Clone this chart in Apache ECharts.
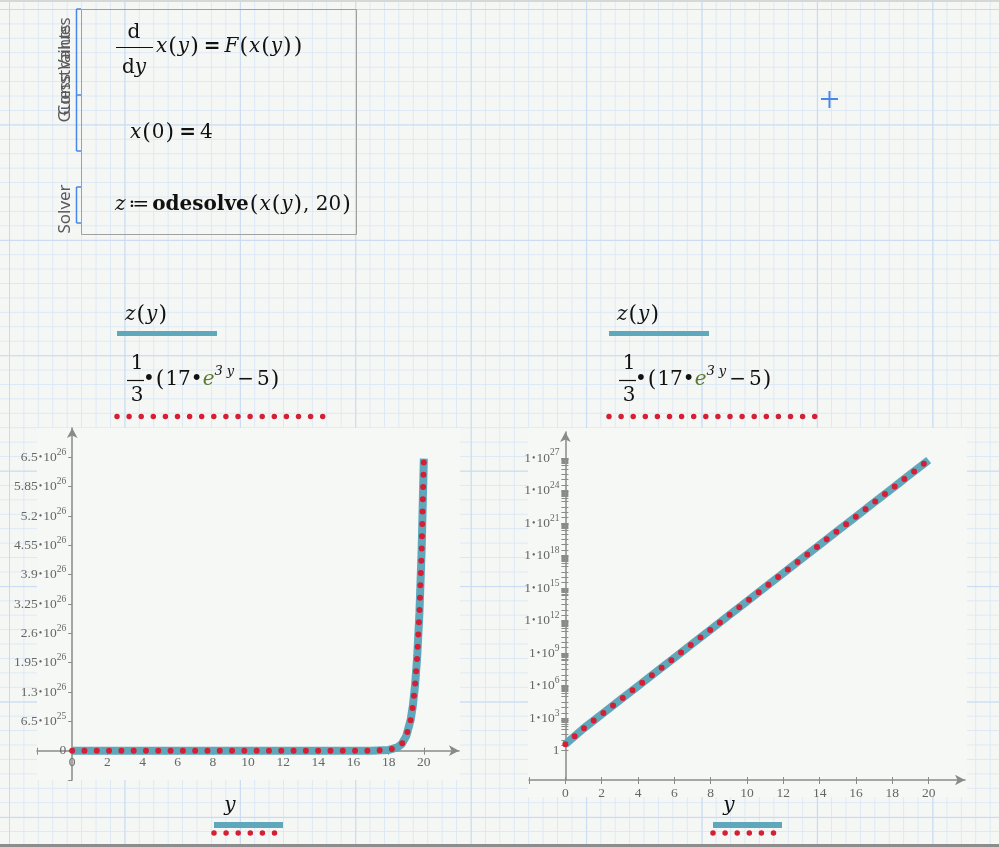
<!DOCTYPE html>
<html>
<head>
<meta charset="utf-8">
<script src="https://cdn.jsdelivr.net/npm/echarts@6/dist/echarts.min.js"></script>
<style>
html,body{margin:0;padding:0;}
body{width:999px;height:847px;overflow:hidden;background-color:#f5f7f4;
background-image:
 linear-gradient(to right, #c8daf2 1px, transparent 1px),
 linear-gradient(to bottom, #c8daf2 1px, transparent 1px),
 linear-gradient(to right, #dde8f6 1px, transparent 1px),
 linear-gradient(to bottom, #dde8f6 1px, transparent 1px);
background-size:115.44px 115.44px,115.44px 115.44px,14.43px 14.43px,14.43px 14.43px;
background-position:9px 9px,9px 9px,9px 9px,9px 9px;}
#chart{width:999px;height:847px;}
</style>
</head>
<body>
<div id="chart"></div>
<script>
// ---- data ----
const yValues = [0,1,2,3,4,5,6,7,8,9,10,11,12,13,14,15,16,17,18,18.5,18.75,19,19.25,19.375,19.5,19.625,19.75,19.875,20];
const zValues = [4,112.1,2286,45917,922280,1.852e7,3.721e8,7.473e9,1.501e11,3.015e12,6.056e13,1.216e15,2.443e16,4.907e17,9.856e18,1.980e20,3.976e21,7.986e22,1.604e24,7.189e24,1.522e25,3.222e25,6.821e25,9.924e25,1.444e26,2.101e26,3.057e26,4.448e26,6.471e26];

// ---- ticks / labels ----
const xTickValues = [-2,0,2,4,6,8,10,12,14,16,18,20];
const xLabelValues = [0,2,4,6,8,10,12,14,16,18,20];
const leftYTickValues = [-6.5e25,0,6.5e25,1.3e26,1.95e26,2.6e26,3.25e26,3.9e26,4.55e26,5.2e26,5.85e26,6.5e26];
const leftYLabelValues = [0,6.5e25,1.3e26,1.95e26,2.6e26,3.25e26,3.9e26,4.55e26,5.2e26,5.85e26,6.5e26];
const leftYLabelMantissa = ['0','6.5','1.3','1.95','2.6','3.25','3.9','4.55','5.2','5.85','6.5'];
const leftYLabelExponent = [null,25,26,26,26,26,26,26,26,26,26];
const rightYLabelExponents = [0,3,6,9,12,15,18,21,24,27];

const serif = '"Liberation Serif", "DejaVu Serif", serif';
const mathFont = '"DejaVu Serif", serif';
const axisColor = '#8a8a8a';
const labelColor = '#666';
const teal = '#5fa8bc';
const red = '#d41f34';

function sciLabel(mant, exp){
  if (exp == null) return '{m|' + mant + '}';
  return '{m|' + mant + '}{d|•}{m|10}{e|' + exp + '}';
}
const labelRich = {
  m:{fontFamily:serif,fontSize:13.5,color:labelColor,lineHeight:20},
  d:{fontFamily:serif,fontSize:10,color:labelColor,lineHeight:20,padding:[0,1,0,1]},
  e:{fontFamily:serif,fontSize:9.5,color:labelColor,lineHeight:10,verticalAlign:'top'}
};
function leftYFormatter(v){
  const i = leftYLabelValues.findIndex(t => Math.abs(t - v) <= Math.abs(t)*1e-6 + 1);
  return i < 0 ? '' : sciLabel(leftYLabelMantissa[i], leftYLabelExponent[i]);
}
const rightYLabelValues = rightYLabelExponents.map(e => Math.pow(10, e));
function rightYFormatter(v){
  const e = Math.round(Math.log10(v));
  return e === 0 ? '{m|1}' : sciLabel('1', e);
}
// log axis tick marks: a cluster in the decade below each labelled decade plus a few single ticks
const rightYTickValues = [];
rightYLabelExponents.forEach(e => {
  rightYTickValues.push(Math.pow(10, e));
  if (e > 0) {
    for (let m = 2; m <= 9; m++) rightYTickValues.push(m * Math.pow(10, e - 1));
    [1, 1.5, 2, 2.5].forEach(d => rightYTickValues.push(Math.pow(10, e - d)));
  }
});

const pairs = yValues.map((y, i) => [y, zValues[i]]);

function axisLineCfg(){
  return {onZero:false, symbol:['none','arrow'], symbolSize:[8,10], lineStyle:{color:axisColor,width:1.5}};
}
const tickCfg = (vals, inside) => ({customValues:vals, length:inside ? 3 : 4, inside:!!inside, lineStyle:{color:axisColor,width:1}});

// ---- math text helpers ----
const mathRich = {
  i:{fontFamily:mathFont,fontStyle:'italic',fontSize:20,fill:'#111',lineHeight:30},
  r:{fontFamily:mathFont,fontSize:20,fill:'#111',lineHeight:30},
  q:{fontFamily:mathFont,fontSize:20,fill:'#111',lineHeight:30,padding:[0,3,0,3]},
  bq:{fontFamily:mathFont,fontWeight:'bold',fontSize:20,fill:'#111',lineHeight:30,padding:[0,4,0,4]},
  p:{fontFamily:mathFont,fontSize:22,fill:'#111',lineHeight:30,padding:[0,1,0,1]},
  b:{fontFamily:mathFont,fontWeight:'bold',fontSize:20,fill:'#111',lineHeight:30},
  g:{fontFamily:mathFont,fontStyle:'italic',fontSize:20,fill:'#5b7a2d',lineHeight:30},
  s:{fontFamily:mathFont,fontStyle:'italic',fontSize:13,fill:'#111',lineHeight:18,verticalAlign:'top'}
};
function T(x, y, text, extra){
  return {type:'text', x:x, y:y, z:5, style:Object.assign({text:text, rich:mathRich, align:'left', verticalAlign:'middle', fontFamily:mathFont, fontSize:20, fill:'#111'}, extra||{})};
}
function L(x1, y1, x2, y2, color, w){
  return {type:'line', z:5, shape:{x1:x1,y1:y1,x2:x2,y2:y2}, style:{stroke:color||'#111', lineWidth:w||1.2}};
}
function R(x, y, w, h, fill, z){
  return {type:'rect', z:(z==null?5:z), shape:{x:x,y:y,width:w,height:h}, style:{fill:fill}};
}
function dots(x1, x2, y){
  return {type:'polyline', z:5, shape:{points:[[x1,y],[x2,y]]}, style:{stroke:red, lineWidth:5.5, lineDash:[0,12.1], lineCap:'round', fill:null}};
}
function legendBlock(dx){
  return [
    T(125+dx, 315, '{i|z}{p|(}{i|y}{p|)}'),
    R(117+dx, 331, 100, 5, teal),
    T(137+dx, 364, '1', {align:'center'}),
    L(127+dx, 380.5, 144+dx, 380.5),
    T(137+dx, 396, '3', {align:'center'}),
    T(143+dx, 380, '{r|•}{p|(}{r|17}{r|•}{g|e}{s|3 y}{q|−}{r|5}{p|)}'),
    dots(117+dx, 325+dx, 416.5)
  ];
}
const blue = '#4a86e8';
const graphics = [
  R(37, 428, 423, 352, '#f6f8f5', -10),
  R(528, 428, 439, 369, '#f6f8f5', -10),
  R(0, 0, 999, 2, '#d6d8d6', 5),
  R(0, 844, 999, 3, '#8d8d8d', 5),
  // solve block frame
  {type:'rect', z:5, shape:{x:81.5,y:9.5,width:275,height:225}, style:{fill:null, stroke:'#a0a0a0', lineWidth:1}},
  L(76.5, 9, 76.5, 95, blue, 1.5), L(76.5, 9, 81, 9, blue, 1.5), L(76.5, 95, 81, 95, blue, 1.5),
  L(76.5, 95, 76.5, 151, blue, 1.5), L(76.5, 151, 81, 151, blue, 1.5),
  L(76.5, 187, 76.5, 223, blue, 1.5), L(76.5, 187, 81, 187, blue, 1.5), L(76.5, 223, 81, 223, blue, 1.5),
  {type:'text', x:65, y:70, rotation:Math.PI/2, z:5, style:{text:'Constraints', fontFamily:'"Noto Sans", sans-serif', fontSize:17, fill:'#5a5a5a', align:'center', verticalAlign:'middle'}},
  {type:'text', x:65, y:70, rotation:Math.PI/2, z:5, style:{text:'Guess Values', fontFamily:'"Noto Sans", sans-serif', fontSize:17, fill:'#5a5a5a', align:'center', verticalAlign:'middle'}},
  {type:'text', x:65, y:209, rotation:Math.PI/2, z:5, style:{text:'Solver', fontFamily:'"Noto Sans", sans-serif', fontSize:17, fill:'#5a5a5a', align:'center', verticalAlign:'middle'}},
  // d/dy x(y) = F(x(y))
  T(134, 33, 'd', {align:'center'}),
  L(116, 47.5, 153, 47.5),
  T(134, 68, '{r|d}{i|y}', {align:'center'}),
  T(156, 47, '{i|x}{p|(}{i|y}{p|)}{bq|=}{i|F}{p|(}{i|x}{p|(}{i|y}{p|)}{p|)}'),
  T(130, 133, '{i|x}{p|(}{r|0}{p|)}{bq|=}{r|4}'),
  T(115, 205, '{i|z}{q|≔}{b|odesolve}{p|(}{i|x}{p|(}{i|y}{p|)}{r|, 20}{p|)}'),
  // cursor
  L(821, 99, 838, 99, blue, 2), L(829.5, 91, 829.5, 108, blue, 2)
].concat(legendBlock(0), legendBlock(492), [
  T(230, 806, '{i|y}', {align:'center'}),
  R(214, 822, 69, 6, teal),
  dots(214, 277, 833),
  T(729, 806, '{i|y}', {align:'center'}),
  R(713, 822, 69, 6, teal),
  dots(713, 776, 833)
]);

const hidden = {show:false};
const chart = echarts.init(document.getElementById('chart'), null, {renderer:'canvas'});
chart.setOption({
  animation:false,
  grid:[
    {left:37, top:428, width:422, height:352, containLabel:false, outerBoundsMode:'none'},
    {left:529, top:432, width:436, height:348, containLabel:false, outerBoundsMode:'none'}
  ],
  xAxis:[
    {gridIndex:0, type:'value', min:-2, max:22, position:'bottom', offset:-29.3, axisLine:axisLineCfg(), axisTick:tickCfg(xTickValues),
     axisLabel:{customValues:xLabelValues, margin:5, fontFamily:serif, fontSize:13.5, color:labelColor}, splitLine:hidden},
    {gridIndex:1, type:'value', min:-2, max:22, position:'bottom', axisLine:axisLineCfg(), axisTick:tickCfg(xTickValues),
     axisLabel:{customValues:xLabelValues, margin:6, fontFamily:serif, fontSize:13.5, color:labelColor}, splitLine:hidden},
    // inner halves of the crossing tick marks
    {gridIndex:0, type:'value', min:-2, max:22, position:'bottom', offset:-29.3, axisLine:hidden, axisTick:tickCfg(xTickValues, true), axisLabel:hidden, splitLine:hidden},
    {gridIndex:1, type:'value', min:-2, max:22, position:'bottom', axisLine:hidden, axisTick:tickCfg(xTickValues, true), axisLabel:hidden, splitLine:hidden}
  ],
  yAxis:[
    {gridIndex:0, type:'value', min:-6.5e25, max:7.15e26, position:'left', offset:-35.2, axisLine:axisLineCfg(), axisTick:tickCfg(leftYTickValues),
     axisLabel:{customValues:leftYLabelValues, margin:6, formatter:leftYFormatter, rich:labelRich}, splitLine:hidden},
    {gridIndex:1, type:'log', logBase:10, min:0.002, max:2.5e29, position:'left', offset:-36.4, axisLine:axisLineCfg(), axisTick:tickCfg(rightYTickValues),
     axisLabel:{customValues:rightYLabelValues, margin:6, formatter:rightYFormatter, rich:labelRich}, splitLine:hidden, minorTick:hidden},
    {gridIndex:1, type:'log', logBase:10, min:0.002, max:2.5e29, position:'left', offset:-36.4, axisLine:hidden, axisTick:tickCfg(rightYTickValues, true),
     axisLabel:hidden, splitLine:hidden, minorTick:hidden}
  ],
  series:[
    {type:'line', xAxisIndex:0, yAxisIndex:0, data:pairs, showSymbol:false, lineStyle:{color:teal,width:8}, z:2},
    {type:'line', xAxisIndex:0, yAxisIndex:0, data:pairs, showSymbol:false, lineStyle:{color:red,width:6,type:[0,12.3],cap:'round'}, z:3},
    {type:'line', xAxisIndex:1, yAxisIndex:1, data:pairs, showSymbol:false, lineStyle:{color:teal,width:8}, z:2},
    {type:'line', xAxisIndex:1, yAxisIndex:1, data:pairs, showSymbol:false, lineStyle:{color:red,width:6,type:[0,12.3],cap:'round'}, z:3}
  ],
  graphic:graphics
});
</script>
</body>
</html>
